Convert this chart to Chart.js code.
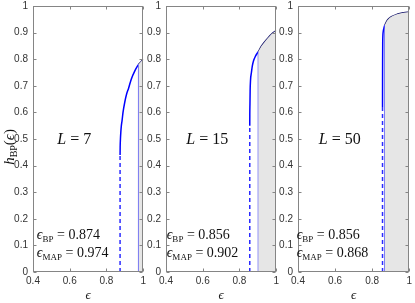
<!DOCTYPE html>
<html>
<head>
<meta charset="utf-8">
<script src="https://cdn.jsdelivr.net/npm/chart.js@4.4.1/dist/chart.umd.min.js"></script>
<style>
  body { margin: 0; background: #fff; }
  #wrap { position: relative; width: 415px; height: 303px; overflow: hidden; }
  canvas { position: absolute; top: -5px; }
</style>
</head>
<body>
<div id="wrap">
  <canvas id="p1" width="149" height="308" style="left:0px"></canvas>
  <canvas id="p2" width="137" height="308" style="left:145px"></canvas>
  <canvas id="p3" width="137" height="308" style="left:278px"></canvas>
</div>
<script>
// values
const panelL = [7, 15, 50];
const epsBP = [0.874, 0.856, 0.856];
const epsMAP = [0.974, 0.902, 0.868];

const eps7 = [0.874, 0.8745, 0.876, 0.878, 0.881, 0.885, 0.89, 0.90, 0.91, 0.92, 0.935, 0.955, 0.974, 0.987, 1.0];
const h7   = [0.44, 0.47, 0.50, 0.525, 0.55, 0.57, 0.60, 0.64, 0.67, 0.69, 0.725, 0.757, 0.78, 0.79, 0.80];

const eps15 = [0.856, 0.8562, 0.857, 0.858, 0.86, 0.865, 0.87, 0.877, 0.886, 0.902, 0.92, 0.95, 0.975, 1.0];
const h15   = [0.55, 0.59, 0.63, 0.68, 0.72, 0.75, 0.775, 0.795, 0.81, 0.828, 0.85, 0.876, 0.895, 0.908];

const eps50 = [0.856, 0.8562, 0.8565, 0.857, 0.858, 0.86, 0.863, 0.868, 0.88, 0.895, 0.91, 0.93, 0.95, 0.97, 1.0];
const h50   = [0.62, 0.72, 0.80, 0.86, 0.89, 0.905, 0.915, 0.928, 0.945, 0.956, 0.962, 0.968, 0.972, 0.975, 0.977];

const xTicks = [0.4, 0.6, 0.8, 1];
const yTicks = [0, 0.1, 0.2, 0.3, 0.4, 0.5, 0.6, 0.7, 0.8, 0.9, 1];

const curves = [[eps7, h7], [eps15, h15], [eps50, h50]];
// where the epsilon texts start (data x) in each panel
const noteX = [0.421, 0.404, 0.393];
const axisW = [33, 21, 20];
const padRight = [3, 3, 4];

const SERIF = "'Liberation Serif', 'DejaVu Serif', serif";

function drawParts(ctx, parts, x, y, center) {
  let w = 0;
  parts.forEach(p => { ctx.font = p.font; w += ctx.measureText(p.t).width; });
  let cx = center ? x - w / 2 : x;
  parts.forEach(p => {
    ctx.font = p.font;
    ctx.fillText(p.t, cx, y + (p.dy || 0));
    cx += ctx.measureText(p.t).width;
  });
}

const frame = {
  id: 'frame',
  afterDatasetsDraw(chart) {
    const { ctx, chartArea: a, scales: { x, y } } = chart;
    const L = Math.round(a.left) + 0.5, R = Math.round(a.right) - 0.5;
    const T = Math.round(a.top) + 0.5, B = Math.round(a.bottom) - 0.5;
    ctx.save();
    ctx.strokeStyle = '#858585';
    ctx.lineWidth = 1;
    ctx.beginPath();
    x.ticks.forEach(t => {
      const px = Math.round(x.getPixelForValue(t.value)) + 0.5;
      ctx.moveTo(px, B); ctx.lineTo(px, B - 3);
      ctx.moveTo(px, T); ctx.lineTo(px, T + 3);
    });
    y.ticks.forEach(t => {
      const py = Math.round(y.getPixelForValue(t.value)) + 0.5;
      ctx.moveTo(L, py); ctx.lineTo(L + 3, py);
      ctx.moveTo(R, py); ctx.lineTo(R - 3, py);
    });
    ctx.stroke();
    ctx.strokeRect(L, T, R - L, B - T);
    ctx.restore();
  }
};

const notes = {
  id: 'notes',
  afterDraw(chart, args, o) {
    const { ctx, scales: { x, y } } = chart;
    ctx.save();
    ctx.fillStyle = '#111';
    ctx.textBaseline = 'alphabetic';
    drawParts(ctx, [
      { t: 'L', font: 'italic 16px ' + SERIF },
      { t: ' = ' + o.L, font: '16px ' + SERIF }
    ], x.getPixelForValue(0.625), y.getPixelForValue(0.483), true);
    const x0 = x.getPixelForValue(o.nx);
    drawParts(ctx, [
      { t: 'ϵ', font: 'italic 14px ' + SERIF },
      { t: 'BP', font: '9px ' + SERIF, dy: 3 },
      { t: ' = ' + o.bp.toFixed(3), font: '14px ' + SERIF }
    ], x0, y.getPixelForValue(0.125), false);
    drawParts(ctx, [
      { t: 'ϵ', font: 'italic 14px ' + SERIF },
      { t: 'MAP', font: '9px ' + SERIF, dy: 3 },
      { t: ' = ' + o.map.toFixed(3), font: '14px ' + SERIF }
    ], x0, y.getPixelForValue(0.055), false);
    if (o.ytitle) {
      ctx.translate(14, y.getPixelForValue(0.47));
      ctx.rotate(-Math.PI / 2);
      drawParts(ctx, [
        { t: 'h', font: 'italic 15px ' + SERIF },
        { t: 'BP', font: '10px ' + SERIF, dy: 3 },
        { t: '(', font: '15px ' + SERIF },
        { t: 'ϵ', font: 'italic 15px ' + SERIF },
        { t: ')', font: '15px ' + SERIF }
      ], 0, 0, true);
    }
    ctx.restore();
  }
};

function makePanel(i) {
  const [eps, h] = curves[i];
  const pts = eps.map((e, k) => ({ x: e, y: h[k] }));
  const bp = epsBP[i], map = epsMAP[i];
  const before = pts.filter(p => p.x <= map);
  const after = pts.filter(p => p.x >= map);
  const hMap = after[0].y;
  const fillPts = [{ x: map, y: 0 }].concat(after, [{ x: 1, y: 0 }]);

  new Chart(document.getElementById('p' + (i + 1)), {
    type: 'scatter',
    data: {
      datasets: [
        { data: fillPts, showLine: true, fill: 'origin', backgroundColor: '#e6e6e6',
          borderWidth: 0, pointRadius: 0, tension: 0 },
        { data: [{ x: bp, y: 0 }, { x: bp, y: pts[0].y }], showLine: true,
          borderColor: '#2a2aff', borderWidth: 1.5, borderDash: [4, 3], pointRadius: 0 },
        { data: [{ x: map, y: 0 }, { x: map, y: hMap }], showLine: true,
          borderColor: '#4a4af5', borderWidth: 1, pointRadius: 0 },
        { data: before, showLine: true, borderColor: '#0000ff', borderWidth: 1.5,
          pointRadius: 0, cubicInterpolationMode: 'monotone' },
        { data: after, showLine: true, borderColor: '#14146a', borderWidth: 1.3,
          pointRadius: 0, cubicInterpolationMode: 'monotone' }
      ]
    },
    options: {
      responsive: false,
      animation: false,
      layout: { padding: { top: 0, right: padRight[i], left: 0, bottom: 0 } },
      plugins: {
        legend: { display: false },
        tooltip: { enabled: false },
        notes: { L: panelL[i], bp: bp, map: map, nx: noteX[i], ytitle: i === 0 }
      },
      scales: {
        x: {
          type: 'linear', min: 0.4, max: 1,
          grid: { display: false, drawTicks: false }, border: { display: false },
          afterBuildTicks: s => { s.ticks = xTicks.map(v => ({ value: v })); },
          afterFit: s => { s.height = 31; },
          ticks: { autoSkip: false, maxRotation: 0, padding: 3, color: '#333',
            font: { family: "'Liberation Sans', Arial, sans-serif", size: 10 },
            callback: v => String(v) },
          title: { display: true, text: 'ϵ', color: '#222',
            font: { family: SERIF, size: 13, style: 'italic' }, padding: 0 }
        },
        y: {
          type: 'linear', min: 0, max: 1,
          grid: { display: false, drawTicks: false }, border: { display: false },
          afterBuildTicks: s => { s.ticks = yTicks.map(v => ({ value: v })); },
          afterFit: s => { s.width = axisW[i]; },
          ticks: { autoSkip: false, padding: 5, color: '#333',
            font: { family: "'Liberation Sans', Arial, sans-serif", size: 10 },
            callback: v => String(v) }
        }
      }
    },
    plugins: [frame, notes]
  });
}

[0, 1, 2].forEach(makePanel);
</script>
</body>
</html>
